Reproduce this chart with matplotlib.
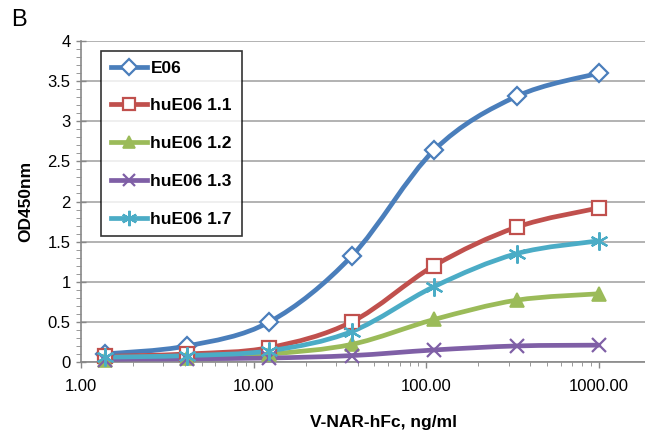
import numpy as np
import matplotlib
matplotlib.use("Agg")
import matplotlib.pyplot as plt
from matplotlib.path import Path
from matplotlib.patches import PathPatch
from matplotlib.lines import Line2D
from matplotlib.ticker import FixedLocator, NullFormatter, MultipleLocator

plt.rcParams['font.family'] = ['Liberation Sans', 'DejaVu Sans']

conc = [1.372, 4.115, 12.35, 37.04, 111.1, 333.3, 1000.0]
series_names = ["E06", "huE06 1.1", "huE06 1.2", "huE06 1.3", "huE06 1.7"]
e06 = [0.10, 0.20, 0.50, 1.32, 2.64, 3.31, 3.60]
hu11 = [0.07, 0.10, 0.18, 0.50, 1.20, 1.68, 1.92]
hu12 = [0.03, 0.05, 0.10, 0.22, 0.53, 0.77, 0.85]
hu13 = [0.03, 0.04, 0.05, 0.08, 0.15, 0.20, 0.21]
hu17 = [0.06, 0.08, 0.14, 0.38, 0.94, 1.35, 1.51]
x_ticks = [1, 10, 100, 1000]
x_ticklabels = ["1.00", "10.00", "100.00", "1000.00"]
y_ticks = [0, 0.5, 1, 1.5, 2, 2.5, 3, 3.5, 4]
y_ticklabels = ["0", "0.5", "1", "1.5", "2", "2.5", "3", "3.5", "4"]

colors = ["#4A7EBB", "#C0504D", "#9BBB59", "#7F5FA6", "#4BACC6"]
values = [e06, hu11, hu12, hu13, hu17]

fig = plt.figure(figsize=(6.45, 4.30), dpi=100)
ax = fig.add_axes([81/645, 1-362/430, 1-81/645, (362-41)/430])
ax.set_xscale('log')
ax.set_xlim(1, 1850)
ax.set_ylim(0, 4)

ax.set_xticks(x_ticks)
ax.set_xticklabels(x_ticklabels)
ax.xaxis.set_minor_locator(FixedLocator([m * 10**d for d in range(0, 4) for m in range(2, 10)]))
ax.xaxis.set_minor_formatter(NullFormatter())
ax.set_yticks(y_ticks)
ax.set_yticklabels(y_ticklabels)
ax.yaxis.set_minor_locator(MultipleLocator(0.1))

ax.tick_params(axis='both', which='major', labelsize=12, color='#888888', length=5, width=1)
ax.tick_params(axis='y', which='major', direction='inout', length=7, pad=4)
ax.tick_params(axis='y', which='minor', direction='out', length=3.5, color='#888888')
ax.tick_params(axis='x', which='major', direction='out', length=4, pad=8)
ax.tick_params(axis='x', which='minor', direction='out', length=3, color='#888888')

ax.grid(True, axis='y', which='major', color='#A6A6A6', lw=1.2)
ax.set_axisbelow(True)
for s in ['top', 'right']:
    ax.spines[s].set_visible(False)
for s in ['left', 'bottom']:
    ax.spines[s].set_color('#888888')
    ax.spines[s].set_linewidth(1.2)

fig.canvas.draw()

def smooth_path(xs, ys):
    pts = ax.transData.transform(np.column_stack([xs, ys]))
    n = len(pts)
    verts = [pts[0]]
    codes = [Path.MOVETO]
    for i in range(n - 1):
        p0 = pts[i - 1] if i > 0 else pts[i]
        p1 = pts[i]
        p2 = pts[i + 1]
        p3 = pts[i + 2] if i + 2 < n else pts[i + 1]
        c1 = p1 + (p2 - p0) / 6.0
        c2 = p2 - (p3 - p1) / 6.0
        verts += [c1, c2, p2]
        codes += [Path.CURVE4] * 3
    verts = ax.transData.inverted().transform(np.array(verts))
    return Path(verts, codes)

marker_specs = [
    dict(marker='D', ms=9, mfc='white', mew=1.6),
    dict(marker='s', ms=10, mfc='white', mew=1.6),
    dict(marker='^', ms=10, mew=1.2),
    dict(marker='x', ms=10, mew=1.6),
    dict(marker=(6, 2, 0), ms=13, mew=1.6),
]

handles = []
for name, vals, col, mk in zip(series_names, values, colors, marker_specs):
    patch = PathPatch(smooth_path(conc, vals), facecolor='none', edgecolor=col,
                      lw=3.4, capstyle='round', joinstyle='round', zorder=3)
    ax.add_patch(patch)
    ax.plot(conc, vals, ls='none', color=col, mec=col,
            **{k: v for k, v in mk.items()}, zorder=4, clip_on=False)
    hmk = dict(mk)
    hmk['ms'] = mk['ms'] * 0.85
    h = Line2D([], [], color=col, lw=3.4, mec=col, **hmk)
    handles.append(h)

leg = ax.legend(handles, series_names, loc='upper left',
                bbox_to_anchor=((101-81)/(645-81), (362-51)/(362-41)),
                prop={'weight': 'bold', 'size': 12.5}, frameon=True, fancybox=False,
                edgecolor='black', handlelength=2.1, handletextpad=0.2,
                labelspacing=1.3, borderpad=0.55, borderaxespad=0)
leg.get_frame().set_linewidth(1.2)
leg.set_zorder(6)

ax.set_ylabel("OD450nm", fontsize=12.5, fontweight='bold', labelpad=10)
fig.text(383/645, 1-422/430, "V-NAR-hFc, ng/ml", fontsize=12.5, fontweight='bold',
         ha='center', va='center')
fig.text(11/645, 1-20/430, "B", fontsize=17, ha='left', va='center')

fig.savefig("out.png", dpi=100)
